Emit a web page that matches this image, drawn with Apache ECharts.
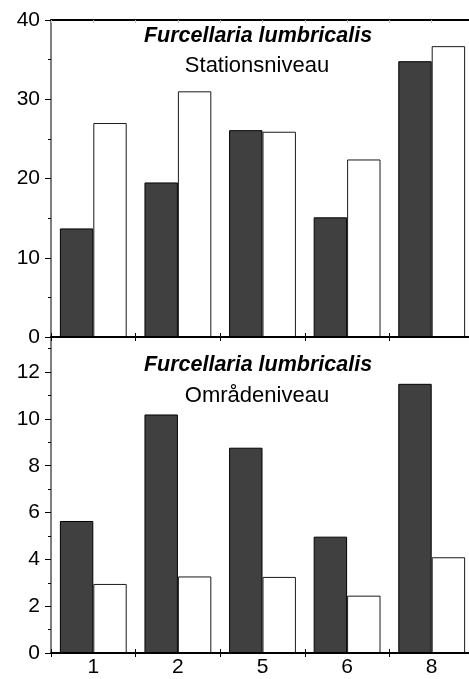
<!DOCTYPE html>
<html>
<head>
<meta charset="utf-8">
<script src="https://cdn.jsdelivr.net/npm/echarts@6/dist/echarts.min.js"></script>
<style>
html,body{margin:0;padding:0;background:#fff;}
#c{width:469px;height:679px;}
</style>
</head>
<body>
<div id="c"></div>
<script>
const categories = ['1', '2', '5', '6', '8'];
const stationDark = [13.7, 19.5, 26.1, 15.1, 34.8];
const stationWhite = [27.0, 31.0, 25.9, 22.4, 36.7];
const areaDark = [5.64, 10.19, 8.77, 4.97, 11.5];
const areaWhite = [2.95, 3.27, 3.25, 2.45, 4.09];
const speciesName = 'Furcellaria lumbricalis';
const topSubtitle = 'Stationsniveau';
const bottomSubtitle = 'Områdeniveau';

const FONT = '"Liberation Sans", Arial, sans-serif';
const chart = echarts.init(document.getElementById('c'), null, {renderer: 'canvas'});

const lbl = {fontSize: 21, color: '#000', fontFamily: FONT};
const gridBase = {left: 51, width: 423, outerBoundsMode: 'none', containLabel: false};

function hiddenLabel() { return {show: false}; }

const darkStyle = {color: '#404040', borderColor: '#000', borderWidth: 1};
const whiteStyle = {color: '#fff', borderColor: '#1a1a1a', borderWidth: 1};

chart.setOption({
  animation: false,
  backgroundColor: '#fff',
  grid: [
    Object.assign({top: 20, height: 317}, gridBase),
    Object.assign({top: 337, height: 316}, gridBase),
    Object.assign({top: 337, height: 316}, gridBase)
  ],
  xAxis: [
    {gridIndex: 0, type: 'category', data: categories, position: 'bottom', z: 5,
     axisLine: {lineStyle: {color: '#000', width: 2}},
     axisTick: {show: true, inside: false, length: 4, lineStyle: {color: '#000', width: 1}},
     axisLabel: hiddenLabel()},
    {gridIndex: 0, type: 'value', position: 'top', min: 0, max: 5, interval: 0.5, z: 5,
     axisLine: {show: true, lineStyle: {color: '#000', width: 2}},
     axisTick: {show: true, inside: true, length: 3, lineStyle: {color: '#bbb', width: 1}},
     splitLine: {show: false}, axisLabel: hiddenLabel()},
    {gridIndex: 1, type: 'category', data: categories, position: 'bottom', z: 5,
     axisLine: {lineStyle: {color: '#000', width: 2}},
     axisTick: {show: true, inside: false, length: 4, lineStyle: {color: '#000', width: 1}},
     axisLabel: Object.assign({margin: 4}, lbl)},
    {gridIndex: 1, type: 'category', data: categories, position: 'top', z: 5,
     axisLine: {show: false},
     axisTick: {show: true, inside: false, length: 4, lineStyle: {color: '#000', width: 1}},
     axisLabel: hiddenLabel()},
    {gridIndex: 2, type: 'category', data: categories, position: 'bottom', z: 5,
     axisLine: {show: false},
     axisTick: {show: true, inside: true, length: 4, lineStyle: {color: '#000', width: 1}},
     axisLabel: hiddenLabel()}
  ],
  yAxis: [
    {gridIndex: 0, type: 'value', min: 0, max: 40, interval: 10, z: 5,
     axisLine: {show: true, lineStyle: {color: '#555', width: 1.5}},
     axisTick: {show: true, inside: false, length: 6, lineStyle: {color: '#000', width: 1}},
     minorTick: {show: true, splitNumber: 2, length: 3, lineStyle: {color: '#000', width: 1}},
     splitLine: {show: false},
     axisLabel: Object.assign({margin: 11}, lbl)},
    {gridIndex: 1, type: 'value', min: 0, max: 13.5, interval: 2, z: 5,
     axisLine: {show: true, lineStyle: {color: '#555', width: 1.5}},
     axisTick: {show: true, inside: false, length: 6, lineStyle: {color: '#000', width: 1}},
     splitLine: {show: false},
     axisLabel: Object.assign({margin: 11, showMaxLabel: false}, lbl)},
    {gridIndex: 2, type: 'value', min: 0, max: 13.5, interval: 1, z: 5,
     axisLine: {show: false},
     axisTick: {show: true, inside: false, length: 3, lineStyle: {color: '#000', width: 1}},
     splitLine: {show: false},
     axisLabel: hiddenLabel()}
  ],
  series: [
    {type: 'bar', xAxisIndex: 0, yAxisIndex: 0, data: stationDark, barGap: '0%', barCategoryGap: '21%', itemStyle: darkStyle},
    {type: 'bar', xAxisIndex: 0, yAxisIndex: 0, data: stationWhite, barGap: '0%', barCategoryGap: '21%', itemStyle: whiteStyle},
    {type: 'bar', xAxisIndex: 2, yAxisIndex: 1, data: areaDark, barGap: '0%', barCategoryGap: '21%', itemStyle: darkStyle},
    {type: 'bar', xAxisIndex: 2, yAxisIndex: 1, data: areaWhite, barGap: '0%', barCategoryGap: '21%', itemStyle: whiteStyle}
  ],
  graphic: [
    {type: 'text', x: 258, y: 36, z: 10, style: {text: speciesName, fontStyle: 'italic', fontWeight: 'bold', fontSize: 21.5, fontFamily: FONT, fill: '#000', align: 'center', verticalAlign: 'middle'}},
    {type: 'text', x: 257, y: 66, z: 10, style: {text: topSubtitle, fontSize: 22, fontFamily: FONT, fill: '#000', align: 'center', verticalAlign: 'middle'}},
    {type: 'text', x: 258, y: 365, z: 10, style: {text: speciesName, fontStyle: 'italic', fontWeight: 'bold', fontSize: 21.5, fontFamily: FONT, fill: '#000', align: 'center', verticalAlign: 'middle'}},
    {type: 'text', x: 257, y: 396, z: 10, style: {text: bottomSubtitle, fontSize: 22, fontFamily: FONT, fill: '#000', align: 'center', verticalAlign: 'middle'}}
  ]
});
</script>
</body>
</html>
